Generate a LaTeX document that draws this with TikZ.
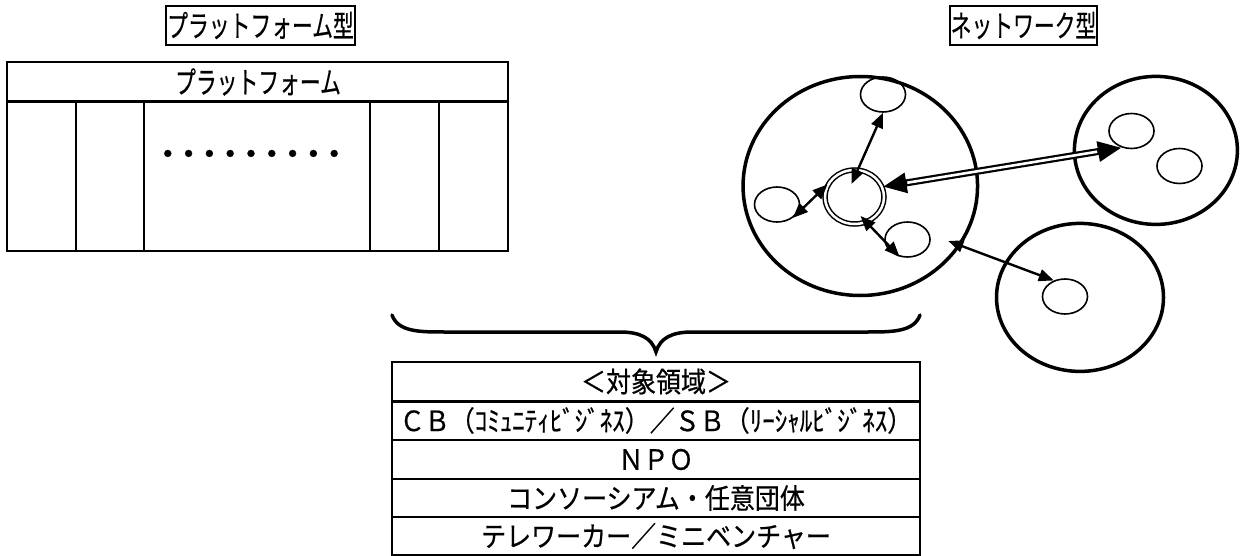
\documentclass[tikz,border=0pt]{standalone}
\usepackage{fontspec}
\setmainfont{Noto Sans CJK JP}[FakeBold=0.6]
\usetikzlibrary{arrows.meta,shapes.geometric,calc}
\newcommand{\ftop}{\fontsize{20.8pt}{24pt}\selectfont}
\newcommand{\fbot}{\fontsize{25pt}{28pt}\selectfont}
\newcommand{\tall}[1]{\scalebox{1}[1.45]{#1}}
\newcommand{\btall}[1]{\scalebox{1}[1.12]{#1}}
\newcommand{\bigdot}{\makebox[20.8pt]{\scalebox{1.6}{・}}}
\begin{document}
\begin{tikzpicture}[x=1pt,y=-1pt,
  big/.style={ellipse,draw,line width=3.5pt,inner sep=0pt},
  small/.style={ellipse,draw,line width=1.6pt,inner sep=0pt,minimum width=45pt,minimum height=35pt},
  arr/.style={line width=2.4pt,{Triangle[length=15pt,width=12pt]}-{Triangle[length=15pt,width=12pt]}},
  tline/.style={line width=1.4pt},
  sepline/.style={line width=3pt},
  titlebox/.style={draw,line width=1.2pt,inner sep=0pt,font=\ftop,minimum height=39pt},
  cell/.style={inner sep=0pt,font=\fbot}]
\useasboundingbox (0,0) rectangle (1250,556);

% titles
\node[titlebox,minimum width=189pt] (t1) at (260.5,25.5) {\tall{プラットフォーム型}};
\node[titlebox,minimum width=147pt] (t2) at (1023.5,25.5) {\tall{ネットワーク型}};

% platform table
\draw[tline] (7,62) rectangle (508,251);
\draw[sepline] (7,102) -- (508,102);
\foreach \x in {76,144,370,439} \draw[tline] (\x,102) -- (\x,251);
\node[inner sep=0pt,font=\ftop] (ph) at (258,82) {\tall{プラットフォーム}};
\node[inner sep=0pt,font=\ftop] (pd) at (251,158) {\bigdot\bigdot\bigdot\bigdot\bigdot\bigdot\bigdot\bigdot\bigdot};

% network
\node[big,minimum width=234.5pt,minimum height=219pt] (b1) at (860.3,186) {};
\node[big,minimum width=163pt,minimum height=148pt] (b2) at (1155.9,150.4) {};
\node[big,minimum width=167pt,minimum height=148pt] (b3) at (1080,297.4) {};
\node[small] (e1) at (883,94.5) {};
\node[small] (e2) at (777,204.5) {};
\node[small] (e3) at (907.5,239.5) {};
\node[small] (e21) at (1131.5,131) {};
\node[small] (e22) at (1179.5,166) {};
\node[small] (e31) at (1065,296.5) {};
\node[ellipse,draw,double,double distance=2.5pt,line width=1.5pt,inner sep=0pt,
      minimum width=59pt,minimum height=54pt] (c) at (854.5,197) {};

\draw[arr] (e1.south) -- ($(c.center)+(-3,-13)$);
\draw[arr] (c.155) -- (e2.-40);
\draw[arr] ($(c.center)+(6,19)$) -- (e3.-115);
\draw[arr] ($(b1.center)+(88,55)$) -- (e31.125);
\draw[line width=7pt,{Triangle[length=24pt,width=19pt]}-{Triangle[length=24pt,width=19pt]}] (c.20) -- (e21.-120);
\draw[white,line width=2.6pt,shorten <=25pt,shorten >=25pt] (c.20) -- (e21.-120);

% brace
\draw[line width=3.5pt,line cap=round]
  (392,315) .. controls (398,332) and (420,332) .. (445,332) -- (620,332)
  .. controls (640,332) and (652,338) .. (656,352)
  .. controls (660,338) and (672,332) .. (692,332) -- (867,332)
  .. controls (892,332) and (914,332) .. (920,315);

% target table
\draw[tline] (392,362) rectangle (920,555);
\draw[sepline] (392,401) -- (920,401);
\foreach \y in {440,479,517} \draw[tline] (392,\y) -- (920,\y);
\node[cell] (r0) at (656,381.5) {\btall{＜対象領域＞}};
\node[cell] (r1) at (656,420.5) {\btall{ＣＢ（ｺﾐｭﾆﾃｨﾋﾞｼﾞﾈｽ）／ＳＢ（ﾘｰｼｬﾙﾋﾞｼﾞﾈｽ）}};
\node[cell] (r2) at (656,459.5) {\btall{ＮＰＯ}};
\node[cell] (r3) at (656,498) {\btall{コンソーシアム・任意団体}};
\node[cell] (r4) at (656,536) {\btall{テレワーカー／ミニベンチャー}};
\end{tikzpicture}
\end{document}
